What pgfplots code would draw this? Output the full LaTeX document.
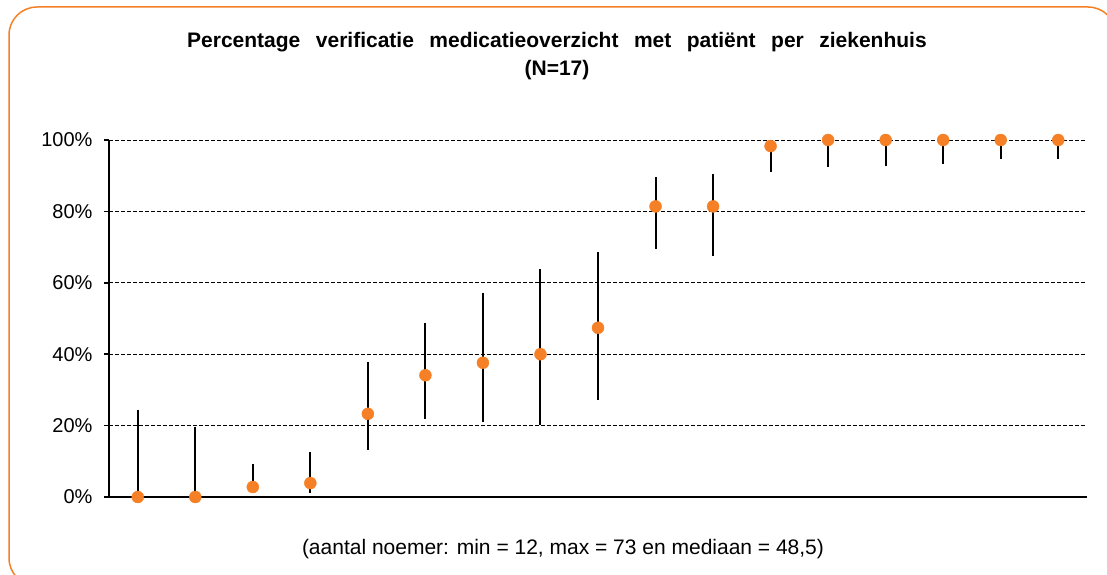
\documentclass[border=0pt]{standalone}
\usepackage{fontspec}
\setmainfont{Liberation Sans}
\usepackage{pgfplots}
\pgfplotsset{compat=1.18}
\definecolor{dotorange}{RGB}{245,128,37}

\begin{document}
\begin{tikzpicture}
\useasboundingbox (0pt,0pt) rectangle (1107pt,574pt);
\begin{scope}
  \clip (0pt,0pt) rectangle (1107pt,574pt);
  \draw[dotorange, line width=1.5pt, rounded corners=28pt] (9pt,-12pt) rectangle (1116pt,567pt);
\end{scope}
\node[font=\bfseries\fontsize{21}{28}\selectfont, align=center] at (557pt,518pt)
  {\spaceskip=15.5pt Percentage verificatie medicatieoverzicht met patiënt per ziekenhuis\\(N=17)};
\node[font=\fontsize{21}{24}\selectfont] at (563pt,25pt)
  {(aantal noemer: min = 12, max = 73 en mediaan = 48,5)};
\begin{axis}[
  at={(109pt,77pt)}, anchor=south west,
  width=978pt, height=357pt, scale only axis,
  xmin=-0.5, xmax=16.5, ymin=0, ymax=100,
  xtick=\empty,
  ytick={0,20,...,100},
  yticklabel={\pgfmathprintnumber[assume math mode=true]{\tick}\%},
  yticklabel style={font=\fontsize{20}{22}\selectfont, xshift=-8pt},
  axis x line=bottom, axis y line=left,
  axis line style={line width=1.6pt, -},
  tick align=outside, major tick length=5pt,
  ytick style={line width=1.6pt, black},
  ymajorgrids,
  major grid style={black, line width=0.8pt, dash pattern=on 4pt off 2pt},
  clip=false,
]
\addplot[only marks, mark=*, mark size=6pt,
  mark options={fill=dotorange, draw=dotorange},
  error bars/.cd, y dir=both, y explicit,
  error bar style={line width=2pt, black}, error mark=none]
  table[x=x, y=y, y error plus=ep, y error minus=em] {
x  y     ep    em
0  0     24.5  0
1  0     19.6  0
2  2.8   6.4   1.8
3  3.9   8.7   2.9
4  23.3  14.4  10.1
5  34.1  14.7  12.2
6  37.6  19.6  16.5
7  40.0  24.0  19.9
8  47.4  21.1  20.2
9  81.4  8.1   12.0
10 81.4  9.0   14.0
11 98.3  1.7   7.3
12 100   0     7.6
13 100   0     7.3
14 100   0     6.7
15 100   0     5.3
16 100   0     5.3
};
\end{axis}
\end{tikzpicture}
\end{document}
